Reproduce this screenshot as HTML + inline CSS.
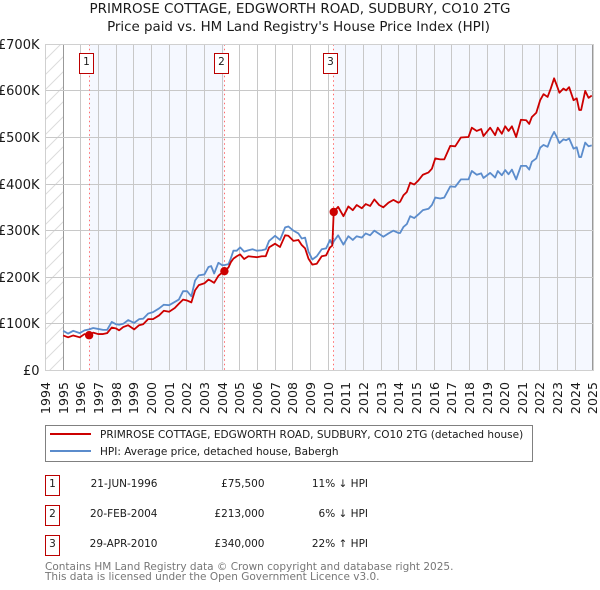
<!DOCTYPE html>
<html>
<head>
<meta charset="utf-8">
<title>PRIMROSE COTTAGE price chart</title>
<style>
html,body{margin:0;padding:0;background:#fff;}
svg{display:block;}
text{font-family:"DejaVu Sans","Liberation Sans",sans-serif;fill:#1a1a1a;}
</style>
</head>
<body>
<svg id="chart" xmlns="http://www.w3.org/2000/svg" width="600" height="590" viewBox="0 0 600 590">
<defs>
<pattern id="hatch" patternUnits="userSpaceOnUse" width="15" height="15">
<path d="M-3 3L3 -3M0 15L15 0M12 18L18 12" stroke="#dcdcdc" stroke-width="1" fill="none"/>
</pattern>
</defs>
<text x="300" y="13" text-anchor="middle" font-size="13.5">PRIMROSE COTTAGE, EDGWORTH ROAD, SUDBURY, CO10 2TG</text>
<text x="298.5" y="31" text-anchor="middle" font-size="13.4">Price paid vs. HM Land Registry's House Price Index (HPI)</text>
<g id="plot"></g>
<g>
<rect x="45.5" y="425.5" width="487" height="36" fill="#fff" stroke="#808080" stroke-width="1"/>
<line x1="50" x2="91" y1="434" y2="434" stroke="#cc0000" stroke-width="2"/>
<text x="100" y="438" font-size="10.5">PRIMROSE COTTAGE, EDGWORTH ROAD, SUDBURY, CO10 2TG (detached house)</text>
<line x1="50" x2="91" y1="451" y2="451" stroke="#5b8ccc" stroke-width="2"/>
<text x="100" y="455" font-size="10.5">HPI: Average price, detached house, Babergh</text>
</g>
<g>
<rect x="45.5" y="475.5" width="14" height="20" fill="#fff" stroke="#bb0000" stroke-width="1"/>
<text x="52.5" y="487" text-anchor="middle" font-size="10.5">1</text>
<text x="157.5" y="487" text-anchor="end" font-size="10.5">21-JUN-1996</text>
<text x="264.5" y="487" text-anchor="end" font-size="10.5">£75,500</text>
<text x="368" y="487" text-anchor="end" font-size="10.5">11% ↓ HPI</text>
<rect x="45.5" y="505.5" width="14" height="20" fill="#fff" stroke="#bb0000" stroke-width="1"/>
<text x="52.5" y="517" text-anchor="middle" font-size="10.5">2</text>
<text x="157.5" y="517" text-anchor="end" font-size="10.5">20-FEB-2004</text>
<text x="264.5" y="517" text-anchor="end" font-size="10.5">£213,000</text>
<text x="368" y="517" text-anchor="end" font-size="10.5">6% ↓ HPI</text>
<rect x="45.5" y="535.5" width="14" height="20" fill="#fff" stroke="#bb0000" stroke-width="1"/>
<text x="52.5" y="547" text-anchor="middle" font-size="10.5">3</text>
<text x="157.5" y="547" text-anchor="end" font-size="10.5">29-APR-2010</text>
<text x="264.5" y="547" text-anchor="end" font-size="10.5">£340,000</text>
<text x="368" y="547" text-anchor="end" font-size="10.5">22% ↑ HPI</text>
</g>
<text x="45" y="570" font-size="10.5" style="fill:#777">Contains HM Land Registry data © Crown copyright and database right 2025.</text>
<text x="45" y="580" font-size="10.5" style="fill:#777">This data is licensed under the Open Government Licence v3.0.</text>
</svg>
<script>
var yearTicks = [1994,1995,1996,1997,1998,1999,2000,2001,2002,2003,2004,2005,2006,2007,2008,2009,2010,2011,2012,2013,2014,2015,2016,2017,2018,2019,2020,2021,2022,2023,2024,2025];
var valueTicks = [0,100,200,300,400,500,600,700];
var valueTickLabels = ["£0","£100K","£200K","£300K","£400K","£500K","£600K","£700K"];
var saleLabels = ["1","2","3"];
var saleDates = [1996.47,2004.13,2010.32];
var salePrices = [75.5,213,340];
var dates = [
1995.00,1995.28,1995.57,1995.94,1996.21,1996.47,1996.70,1996.98,1997.26,1997.49,1997.75,1998.00,1998.17,1998.40,1998.68,
1999.02,1999.30,1999.53,1999.81,2000.09,2000.43,2000.70,2001.00,2001.32,2001.55,2001.79,2002.02,2002.26,2002.47,2002.68,
2003.00,2003.23,2003.38,2003.55,2003.79,2004.00,2004.13,2004.36,2004.49,2004.64,2004.83,2005.02,2005.25,2005.49,2005.72,2005.96,
2006.25,2006.47,2006.66,2007.00,2007.28,2007.57,2007.75,2008.04,2008.32,2008.51,2008.70,2008.89,2009.11,2009.36,2009.64,2009.89,
2010.11,2010.24,2010.32,2010.57,2010.87,2011.15,2011.40,2011.62,2011.91,2012.13,2012.38,2012.62,2012.89,2013.13,2013.42,2013.70,2013.98,
2014.08,2014.27,2014.46,2014.65,2014.88,2015.12,2015.37,2015.69,2015.88,2016.07,2016.35,2016.58,2016.92,2017.20,2017.52,2017.95,
2018.14,2018.42,2018.67,2018.80,2019.18,2019.46,2019.61,2019.84,2020.03,2020.22,2020.41,2020.65,2020.92,2021.22,2021.39,2021.54,2021.79,
2022.01,2022.20,2022.43,2022.61,2022.80,2022.95,2023.10,2023.33,2023.48,2023.65,2023.90,2024.08,2024.22,2024.33,2024.56,2024.75,2024.93
];
var pricePaid = [
75,71,75,71,78,75.5,81,78,78,80,92,90,86,93,97,
88,97,99,110,110,118,128,126,134,143,152,150,146,172,183,
187,195,192,188,203,210,213,221,232,240,245,249,239,245,244,243,
245,245,264,272,265,290,289,278,280,269,262,240,227,229,245,247,
264,268,340,351,331,352,344,355,348,357,353,367,355,350,360,366,360,
362,376,383,403,399,408,420,425,433,455,453,453,482,481,500,501,
521,514,518,503,521,505,521,508,524,514,524,501,538,537,529,544,553,
580,593,587,605,627,612,596,605,601,608,580,584,559,559,600,585,590
];
var hpiIndex = [
85,79,85,80,86,88,91,89,87,87,104,99,98,100,108,
102,110,111,122,125,133,141,140,147,152,170,170,159,193,204,
206,222,224,208,231,226,226,228,240,257,257,264,255,258,260,257,
258,260,278,289,280,307,309,300,294,283,285,255,238,245,260,262,
280,270,277,290,270,288,280,288,285,294,290,300,293,287,294,300,295,
295,308,314,331,327,335,344,347,355,371,369,371,395,394,410,410,
428,420,423,413,424,414,428,419,430,421,431,410,439,439,431,448,455,
478,484,480,498,512,501,488,496,494,498,476,479,458,458,489,481,483
];

var plotLeft = 45.5, plotRight = 593.5, plotTop = 44.3, plotBottom = 370.4;
var firstYear = 1994, lastYear = 2025.03, maxValue = 700;
function xScale(year){ return plotLeft + (year - firstYear) / (lastYear - firstYear) * (plotRight - plotLeft); }
function yScale(value){ return plotBottom - value / maxValue * (plotBottom - plotTop); }
function snap(pos){ return Math.floor(pos) + 0.5; }

var svgNS = "http://www.w3.org/2000/svg";
var plot = document.getElementById("plot");
function make(tag, props){
  var el = document.createElementNS(svgNS, tag);
  for (var k in props) { el.setAttribute(k, props[k]); }
  plot.appendChild(el);
  return el;
}
var i, el;

el = make("rect", {x:plotLeft, y:plotTop, width:plotRight-plotLeft, height:plotBottom-plotTop, fill:"#fff"});



el = make("rect", {x:plotLeft, y:plotTop, width:xScale(1995)-plotLeft, height:plotBottom-plotTop, fill:"url(#hatch)"});



el = make("rect", {x:xScale(saleDates[0]), y:plotTop, width:xScale(saleDates[1])-xScale(saleDates[0]), height:plotBottom-plotTop, fill:"#f5f8ff"});



el = make("rect", {x:xScale(saleDates[2]), y:plotTop, width:plotRight-xScale(saleDates[2]), height:plotBottom-plotTop, fill:"#f5f8ff"});



for (i = 0; i < yearTicks.length; i++) {
  var gx = snap(xScale(yearTicks[i]));
  el = make("line", {x1:gx, x2:gx, y1:plotTop, y2:plotBottom, stroke:(yearTicks[i]===1995||yearTicks[i]===2025)?"#999":"#c8c8c8", "stroke-width":1});
  
  
  el = make("text", {x:0, y:0, "text-anchor":"end", "font-size":12.6, transform:"translate("+(gx+4.5)+",382) rotate(-90)"});
  
  
  el.textContent = String(yearTicks[i]);
}
for (i = 0; i < valueTicks.length; i++) {
  var gy = snap(yScale(valueTicks[i]));
  el = make("line", {x1:plotLeft, x2:plotRight, y1:gy, y2:gy, stroke:"#c8c8c8", "stroke-width":1});
  
  
  el = make("text", {x:39.5, y:gy+4.5, "text-anchor":"end", "font-size":13});
  
  
  el.textContent = valueTickLabels[i];
}
for (i = 0; i < saleDates.length; i++) {
  var sx = snap(xScale(saleDates[i]));
  el = make("line", {x1:sx, x2:sx, y1:plotTop, y2:plotBottom, stroke:"#ff6b6b", "stroke-width":1, "stroke-dasharray":"1.5 3"});
  
  
}
function linePath(values){
  var d = "";
  for (var n = 0; n < dates.length; n++) {
    d += (n ? "L" : "M") + xScale(dates[n]).toFixed(2) + " " + yScale(values[n]).toFixed(2);
  }
  return d;
}
el = make("path", {d:linePath(hpiIndex), fill:"none", stroke:"#5b8ccc", "stroke-width":1.8, "stroke-linejoin":"round"});



el = make("path", {d:linePath(pricePaid), fill:"none", stroke:"#cc0000", "stroke-width":1.8, "stroke-linejoin":"round"});



for (i = 0; i < saleDates.length; i++) {
  el = make("circle", {cx:xScale(saleDates[i]), cy:yScale(salePrices[i]), r:4.2, fill:"#cc0000"});
  
  
  el = make("rect", {x:Math.floor(xScale(saleDates[i]))-9.5, y:53.5, width:14, height:20, fill:"#fff", stroke:"#bb0000", "stroke-width":1});
  
  
  el = make("text", {x:Math.floor(xScale(saleDates[i]))-2.5, y:65, "text-anchor":"middle", "font-size":10.5});
  
  
  el.textContent = saleLabels[i];
}
el = make("rect", {x:plotLeft, y:44.5, width:plotRight-plotLeft, height:326, fill:"none", stroke:"#d0d0d0", "stroke-width":1});


</script>
</body>
</html>
